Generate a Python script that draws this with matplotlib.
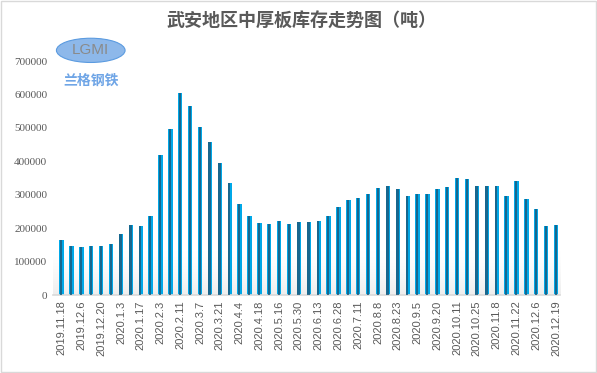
import matplotlib.pyplot as plt
import numpy as np
from matplotlib.patches import Ellipse, Rectangle

plt.rcParams['font.family'] = ['Noto Sans CJK SC', 'DejaVu Sans']

# weekly stock, tons (51 weeks), labels shown on every other week
stock = [165000, 147000, 143000, 147000, 147000, 153000, 182000, 209000, 206000, 236000,
         418000, 497000, 606000, 565000, 502000, 458000, 395000, 334000, 272000, 236000,
         215000, 212000, 221000, 212000, 218000, 218000, 221000, 236000, 263000, 284000,
         290000, 302000, 320000, 326000, 317000, 296000, 302000, 302000, 317000, 323000,
         349000, 347000, 326000, 326000, 326000, 296000, 341000, 287000, 257000, 206000,
         209000]
tick_labels = ['2019.11.18', '2019.12.6', '2019.12.20', '2020.1.3', '2020.1.17', '2020.2.3',
               '2020.2.11', '2020.3.7', '2020.3.21', '2020.4.4', '2020.4.18', '2020.5.16',
               '2020.5.30', '2020.6.13', '2020.6.28', '2020.7.11', '2020.8.8', '2020.8.23',
               '2020.9.5', '2020.9.20', '2020.10.11', '2020.10.25', '2020.11.8', '2020.11.22',
               '2020.12.6', '2020.12.19']
yticks = [0, 100000, 200000, 300000, 400000, 500000, 600000, 700000]

fig = plt.figure(figsize=(5.97, 3.73), dpi=100)
ax = fig.add_axes([0.0883, 0.209, 0.8497, 0.627])

x = np.arange(len(stock))
ax.set_xlim(-0.9, len(stock) - 0.6)
ax.set_ylim(0, 700000)

# soft grey floor shading, fading upwards
grad = np.linspace(0, 1, 100).reshape(-1, 1) ** 1.5
ax.imshow(grad, extent=[-0.9, len(stock) - 0.6, 0, 140000], aspect='auto',
          cmap='Greys', vmin=0, vmax=7, origin='upper', zorder=0)

ax.bar(x, stock, width=0.44, color='#00A8E8', zorder=2)
ax.bar(x - 0.04, stock, width=0.22, color='#1D5C7E', alpha=0.85, zorder=3)

ax.set_yticks(yticks)
ax.set_yticklabels([str(v) for v in yticks], family='Liberation Serif', fontsize=8, color='#595959')
ax.set_xticks(x[::2])
ax.set_xticklabels(tick_labels, rotation=90, family='Liberation Sans', fontsize=8, color='#595959')
ax.tick_params(length=0, pad=4)

for s in ['top', 'right', 'left']:
    ax.spines[s].set_visible(False)
ax.spines['bottom'].set_color('#D9D9D9')
ax.spines['bottom'].set_linewidth(1.2)

fig.text(0.505, 0.942, '武安地区中厚板库存走势图（吨）', ha='center', va='center',
         fontsize=13, fontweight='bold', color='#595959')

# logo
fig.patches.append(Ellipse((0.152, 0.865), 0.115, 0.065, transform=fig.transFigure,
                           facecolor='#8DB8EA', edgecolor='#5B9BE0', linewidth=0.8))
fig.text(0.152, 0.866, 'LGMI', ha='center', va='center', fontsize=11, color='#8A8A8A',
         family='Liberation Sans')
fig.text(0.152, 0.785, '兰格钢铁', ha='center', va='center', fontsize=10, color='#6FA5E6',
         fontstyle='italic', fontweight='bold')

fig.patches.append(Rectangle((0.001, 0.002), 0.997, 0.995, transform=fig.transFigure,
                             fill=False, edgecolor='#D9D9D9', linewidth=1))

fig.savefig('out.png', dpi=100)
